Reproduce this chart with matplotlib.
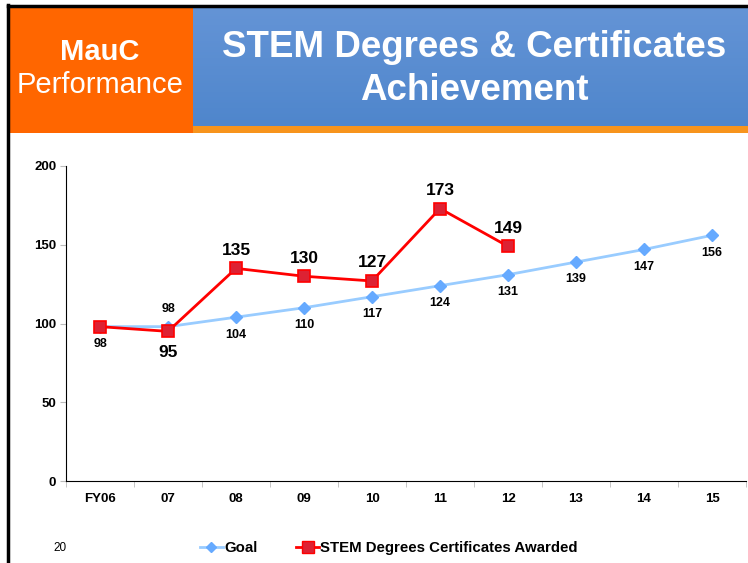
import numpy as np
import matplotlib.pyplot as plt
from matplotlib.patches import Rectangle
from matplotlib.lines import Line2D

plt.rcParams['font.family'] = ['Liberation Sans', 'DejaVu Sans']

years = ["FY06", "07", "08", "09", "10", "11", "12", "13", "14", "15"]
goal = [98, 98, 104, 110, 117, 124, 131, 139, 147, 156]
stem = [98, 95, 135, 130, 127, 173, 149]

fig = plt.figure(figsize=(7.48, 5.63), dpi=100)
W, H = 748, 563

def fx(px):
    return px / W

def fy(py):
    return 1 - py / H

# header
bg = fig.add_axes([0, 0, 1, 1], zorder=-1)
bg.axis("off")
grad = np.linspace(0, 1, 100).reshape(-1, 1)
bg.imshow(grad, cmap=plt.matplotlib.colors.LinearSegmentedColormap.from_list(
    "b", ["#6494d6", "#4f86cc"]), extent=[193, W, 126, 7], aspect="auto")
bg.add_patch(Rectangle((10, 7), 183, 126, color="#ff6600", lw=0))
bg.add_patch(Rectangle((193, 126), W - 193, 7, color="#f7941d", lw=0))
bg.plot([8, W], [6, 6], color="black", lw=2.5)
bg.plot([8.5, 8.5], [5, H], color="black", lw=2.5)
bg.set_xlim(0, W)
bg.set_ylim(H, 0)

fig.text(fx(100), fy(52), "MauC", color="white", fontsize=21, fontweight="bold",
         ha="center", va="center")
fig.text(fx(100), fy(85), "Performance", color="white", fontsize=21,
         ha="center", va="center")
fig.text(fx(474), fy(69), "STEM Degrees & Certificates\nAchievement", color="white",
         fontsize=26.5, fontweight="bold", ha="center", va="center", linespacing=1.3)

# chart
ax = fig.add_axes([fx(66), fy(481), fx(746) - fx(66), fy(166) - fy(481)])
x = np.arange(len(years))
ax.plot(x, goal, color="#99ccff", lw=2, marker="D", ms=6,
        mfc="#66aaff", mec="#66aaff", zorder=2)
ax.plot(x[:len(stem)], stem, color="#ff0000", lw=2, marker="s", ms=9,
        mfc="#dd2233", mec="#ff0000", mew=1.2, zorder=3)

ax.set_xlim(-0.5, len(years) - 0.5)
ax.set_ylim(0, 200)
ax.set_yticks([0, 50, 100, 150, 200])
ax.set_xticks(x)
ax.set_xticklabels(years)
ax.set_xticks(np.arange(-0.5, len(years)), minor=True)
ax.tick_params(axis="x", which="major", length=0, pad=9)
ax.tick_params(axis="x", which="minor", length=4, color="#bbbbbb")
ax.tick_params(axis="y", length=4, color="#bbbbbb", pad=3)
for lab in ax.get_xticklabels() + ax.get_yticklabels():
    lab.set_fontweight("bold")
    lab.set_fontsize(9.5)
ax.spines["top"].set_visible(False)
ax.spines["right"].set_visible(False)

for i, v in enumerate(goal):
    off = 13 if i == 1 else -12.5
    ax.annotate(str(v), (i, v), textcoords="offset points", xytext=(0, off),
                ha="center", va="center", fontsize=9, fontweight="bold")
for i, v in enumerate(stem):
    if i == 0:
        continue
    off = -15 if i == 1 else 13
    ax.annotate(str(v), (i, v), textcoords="offset points", xytext=(0, off),
                ha="center", va="center", fontsize=12.5, fontweight="bold")

handles = [
    Line2D([], [], color="#99ccff", lw=2, marker="D", ms=5, mfc="#66aaff", mec="#66aaff"),
    Line2D([], [], color="#ff0000", lw=2, marker="s", ms=8, mfc="#dd2233", mec="#ff0000"),
]
fig.legend(handles, ["Goal", "STEM Degrees Certificates Awarded"],
           loc="center", bbox_to_anchor=(fx(389), fy(548)), ncol=2, frameon=False,
           prop={"weight": "bold", "size": 10.8}, handlelength=1.5, handletextpad=0.1,
           columnspacing=2.6)
fig.text(fx(60), fy(548), "20", fontsize=8.5, ha="center", va="center")

fig.savefig("out.png", dpi=100)
